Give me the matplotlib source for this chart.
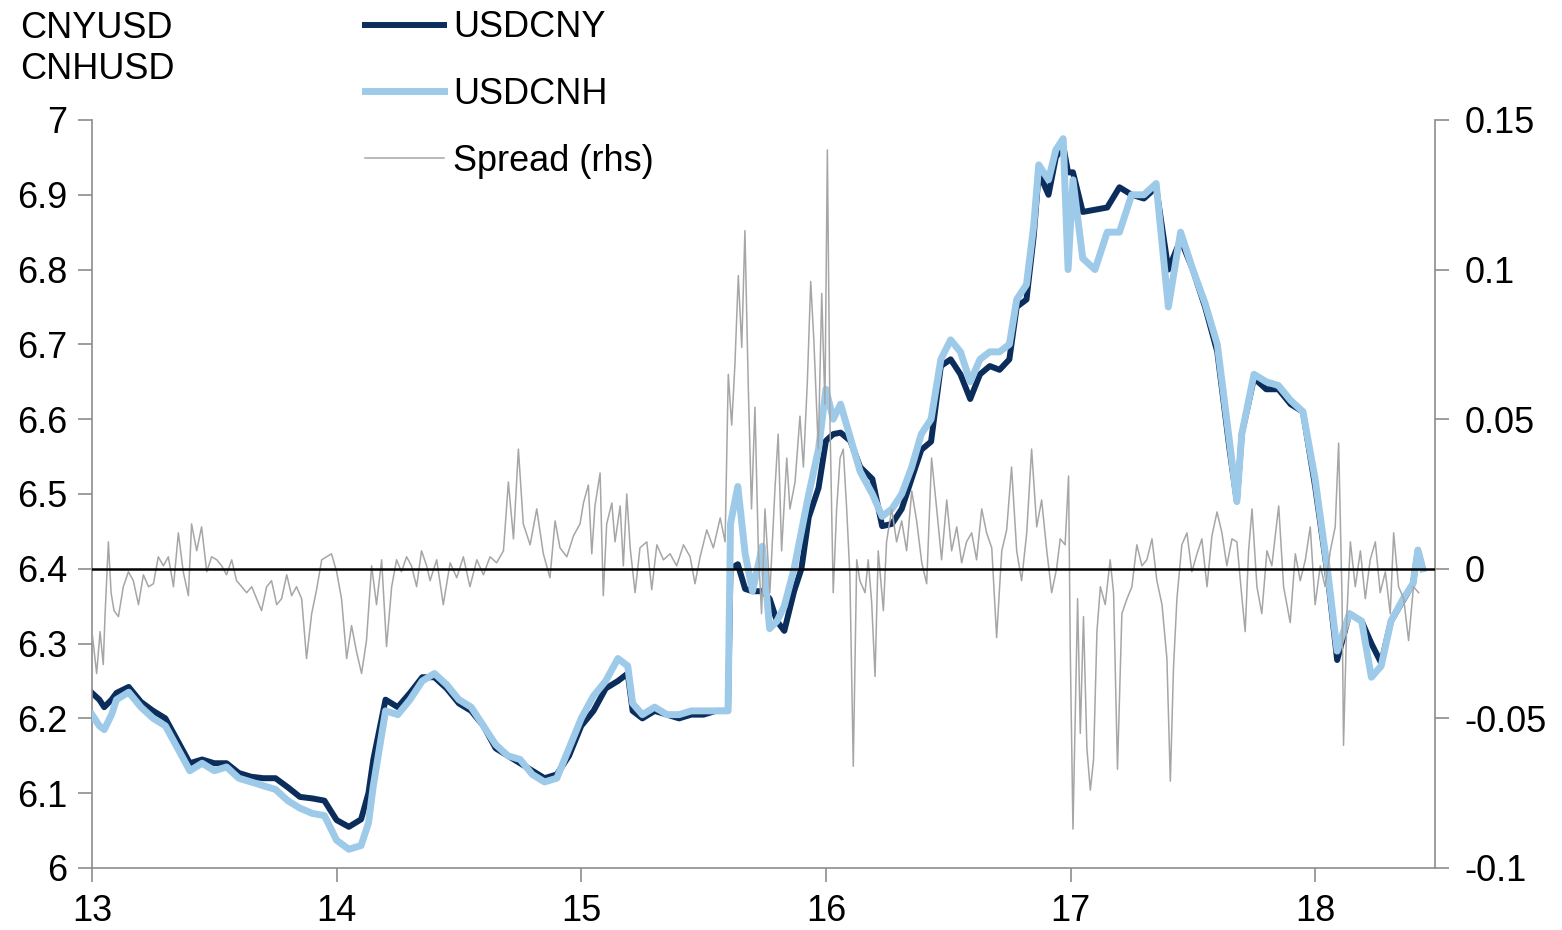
import matplotlib
matplotlib.use("Agg")
import matplotlib.pyplot as plt
from matplotlib.ticker import MultipleLocator, FuncFormatter

plt.rcParams['font.family'] = ['Liberation Sans', 'DejaVu Sans']

# x axis in years (13 = 2013)
fx_dates = [13.00, 13.03, 13.05, 13.08, 13.10, 13.15, 13.20, 13.25, 13.30, 13.35,
            13.40, 13.45, 13.50, 13.55, 13.60, 13.65, 13.70, 13.75, 13.80, 13.85,
            13.90, 13.95, 14.00, 14.05, 14.10, 14.13, 14.15, 14.20, 14.25, 14.30,
            14.35, 14.40, 14.45, 14.50, 14.55, 14.60, 14.65, 14.70, 14.75, 14.80,
            14.85, 14.90, 14.95, 15.00, 15.05, 15.10, 15.15, 15.19, 15.21, 15.25,
            15.30, 15.35, 15.40, 15.45, 15.50, 15.55, 15.60, 15.61, 15.64, 15.67,
            15.70, 15.74, 15.77, 15.80, 15.83, 15.87, 15.90, 15.93, 15.97, 16.00,
            16.03, 16.06, 16.10, 16.14, 16.19, 16.23, 16.27, 16.31, 16.35, 16.39,
            16.43, 16.47, 16.51, 16.55, 16.59, 16.63, 16.67, 16.71, 16.75, 16.78,
            16.82, 16.85, 16.87, 16.91, 16.94, 16.97, 16.99, 17.01, 17.05, 17.10,
            17.15, 17.20, 17.25, 17.30, 17.35, 17.40, 17.45, 17.50, 17.55, 17.60,
            17.65, 17.68, 17.70, 17.75, 17.80, 17.85, 17.90, 17.95, 18.00, 18.05,
            18.09, 18.14, 18.19, 18.23, 18.27, 18.31, 18.36, 18.40, 18.42, 18.44]

usdcny = [6.234, 6.225, 6.215, 6.225, 6.234, 6.242, 6.222, 6.210, 6.200, 6.170,
          6.140, 6.145, 6.140, 6.140, 6.127, 6.122, 6.120, 6.120, 6.108, 6.095,
          6.093, 6.090, 6.064, 6.055, 6.065, 6.100, 6.145, 6.225, 6.215, 6.234,
          6.255, 6.255, 6.240, 6.220, 6.210, 6.190, 6.160, 6.150, 6.140, 6.130,
          6.120, 6.125, 6.150, 6.190, 6.210, 6.240, 6.250, 6.260, 6.210, 6.200,
          6.210, 6.205, 6.200, 6.205, 6.205, 6.210, 6.210, 6.400, 6.406, 6.373,
          6.370, 6.370, 6.360, 6.330, 6.317, 6.370, 6.400, 6.469, 6.508, 6.571,
          6.580, 6.582, 6.571, 6.536, 6.520, 6.457, 6.460, 6.480, 6.520, 6.559,
          6.570, 6.671, 6.680, 6.660, 6.627, 6.660, 6.671, 6.666, 6.680, 6.750,
          6.760, 6.846, 6.930, 6.900, 6.950, 6.966, 6.930, 6.930, 6.877, 6.880,
          6.883, 6.910, 6.900, 6.895, 6.910, 6.800, 6.840, 6.800, 6.750, 6.690,
          6.560, 6.490, 6.580, 6.655, 6.640, 6.640, 6.620, 6.610, 6.510, 6.394,
          6.278, 6.340, 6.330, 6.300, 6.274, 6.330, 6.358, 6.380, 6.425, 6.400]

usdcnh = [6.205, 6.190, 6.185, 6.205, 6.225, 6.235, 6.215, 6.200, 6.190, 6.160,
          6.130, 6.140, 6.130, 6.135, 6.120, 6.115, 6.110, 6.105, 6.090, 6.080,
          6.073, 6.070, 6.037, 6.025, 6.030, 6.060, 6.110, 6.210, 6.205, 6.225,
          6.250, 6.260, 6.245, 6.225, 6.215, 6.190, 6.165, 6.150, 6.145, 6.125,
          6.115, 6.120, 6.160, 6.200, 6.230, 6.250, 6.280, 6.270, 6.220, 6.205,
          6.215, 6.205, 6.205, 6.210, 6.210, 6.210, 6.210, 6.460, 6.510, 6.420,
          6.370, 6.430, 6.320, 6.330, 6.350, 6.400, 6.450, 6.500, 6.560, 6.640,
          6.600, 6.620, 6.575, 6.530, 6.500, 6.470, 6.480, 6.500, 6.535, 6.580,
          6.600, 6.680, 6.706, 6.690, 6.650, 6.680, 6.690, 6.690, 6.700, 6.760,
          6.780, 6.860, 6.940, 6.920, 6.960, 6.975, 6.800, 6.920, 6.815, 6.800,
          6.850, 6.850, 6.900, 6.900, 6.915, 6.750, 6.850, 6.800, 6.755, 6.700,
          6.570, 6.490, 6.580, 6.660, 6.650, 6.645, 6.625, 6.610, 6.520, 6.400,
          6.290, 6.340, 6.330, 6.255, 6.270, 6.330, 6.360, 6.380, 6.425, 6.400]

spread_dates = [
    13.000, 13.019, 13.033, 13.046, 13.053, 13.067, 13.078, 13.090, 13.108, 13.128,
    13.149, 13.169, 13.190, 13.210, 13.231, 13.251, 13.271, 13.292, 13.312, 13.333,
    13.353, 13.373, 13.394, 13.407, 13.428, 13.448, 13.469, 13.489, 13.510, 13.530,
    13.550, 13.571, 13.591, 13.612, 13.632, 13.653, 13.673, 13.693, 13.714, 13.734,
    13.755, 13.775, 13.796, 13.816, 13.836, 13.857, 13.877, 13.898, 13.918, 13.939,
    13.959, 13.979, 14.000, 14.020, 14.041, 14.061, 14.082, 14.102, 14.122, 14.143,
    14.163, 14.184, 14.204, 14.225, 14.245, 14.265, 14.286, 14.306, 14.327, 14.347,
    14.368, 14.382, 14.409, 14.436, 14.464, 14.491, 14.518, 14.545, 14.573, 14.600,
    14.627, 14.654, 14.682, 14.702, 14.723, 14.743, 14.763, 14.791, 14.818, 14.845,
    14.872, 14.893, 14.913, 14.941, 14.968, 14.995, 15.009, 15.029, 15.043, 15.056,
    15.077, 15.090, 15.104, 15.125, 15.138, 15.159, 15.172, 15.186, 15.200, 15.220,
    15.240, 15.268, 15.288, 15.309, 15.336, 15.363, 15.390, 15.418, 15.445, 15.465,
    15.486, 15.513, 15.540, 15.568, 15.588, 15.601, 15.615, 15.628, 15.642, 15.656,
    15.669, 15.683, 15.696, 15.710, 15.724, 15.737, 15.751, 15.771, 15.792, 15.805,
    15.819, 15.840, 15.853, 15.874, 15.894, 15.908, 15.924, 15.938, 15.951, 15.969,
    15.983, 15.996, 16.006, 16.017, 16.030, 16.044, 16.058, 16.071, 16.085, 16.098,
    16.112, 16.126, 16.139, 16.160, 16.173, 16.187, 16.201, 16.214, 16.235, 16.248,
    16.269, 16.289, 16.310, 16.330, 16.351, 16.371, 16.392, 16.412, 16.432, 16.453,
    16.473, 16.494, 16.514, 16.535, 16.555, 16.575, 16.596, 16.616, 16.637, 16.657,
    16.678, 16.698, 16.719, 16.739, 16.759, 16.780, 16.800, 16.821, 16.841, 16.862,
    16.882, 16.903, 16.923, 16.943, 16.958, 16.978, 16.992, 16.999, 17.010, 17.019,
    17.029, 17.040, 17.053, 17.067, 17.081, 17.094, 17.108, 17.122, 17.142, 17.162,
    17.176, 17.192, 17.210, 17.231, 17.251, 17.271, 17.292, 17.312, 17.333, 17.353,
    17.374, 17.394, 17.408, 17.421, 17.435, 17.455, 17.476, 17.496, 17.517, 17.537,
    17.558, 17.578, 17.599, 17.619, 17.639, 17.660, 17.680, 17.701, 17.714, 17.728,
    17.742, 17.762, 17.782, 17.803, 17.823, 17.851, 17.871, 17.898, 17.919, 17.939,
    17.960, 17.980, 18.000, 18.021, 18.041, 18.062, 18.082, 18.096, 18.110, 18.116,
    18.130, 18.144, 18.164, 18.185, 18.205, 18.225, 18.246, 18.266, 18.287, 18.307,
    18.321, 18.341, 18.362, 18.382, 18.402, 18.423]

spread = [
    -0.021, -0.035, -0.021, -0.032, -0.016, 0.009, -0.008, -0.014, -0.016, -0.006,
    -0.001, -0.004, -0.012, -0.002, -0.006, -0.005, 0.004, 0.001, 0.004, -0.006,
    0.012, -0.001, -0.009, 0.015, 0.006, 0.014, -0.001, 0.004, 0.003, 0.001,
    -0.002, 0.003, -0.004, -0.006, -0.008, -0.006, -0.010, -0.014, -0.006, -0.004,
    -0.012, -0.010, -0.002, -0.009, -0.006, -0.010, -0.030, -0.015, -0.007, 0.003,
    0.004, 0.005, -0.001, -0.010, -0.030, -0.019, -0.028, -0.035, -0.024, 0.001,
    -0.012, 0.003, -0.026, -0.006, 0.003, -0.001, 0.004, 0.001, -0.006, 0.006,
    0.001, -0.004, 0.003, -0.012, 0.002, -0.003, 0.004, -0.006, 0.003, -0.002,
    0.004, 0.002, 0.006, 0.029, 0.010, 0.040, 0.015, 0.008, 0.020, 0.005,
    -0.003, 0.016, 0.007, 0.004, 0.011, 0.015, 0.022, 0.028, 0.005, 0.021,
    0.032, -0.009, 0.015, 0.022, 0.009, 0.021, 0.001, 0.025, 0.007, -0.008,
    0.007, 0.009, -0.007, 0.008, 0.003, 0.005, 0.001, 0.008, 0.004, -0.005,
    0.004, 0.013, 0.007, 0.017, 0.009, 0.065, 0.048, 0.068, 0.098, 0.074,
    0.113, 0.060, 0.020, 0.054, 0.006, -0.015, 0.020, -0.008, 0.027, 0.045,
    0.006, 0.037, 0.020, 0.029, 0.051, 0.034, 0.062, 0.096, 0.076, 0.040,
    0.092, 0.055, 0.140, 0.048, -0.008, 0.020, 0.037, 0.040, 0.020, -0.002,
    -0.066, 0.003, -0.004, -0.008, 0.003, -0.011, -0.036, 0.006, -0.014, 0.009,
    0.020, 0.009, 0.016, 0.006, 0.026, 0.016, 0.002, -0.005, 0.037, 0.020,
    0.003, 0.023, 0.006, 0.014, 0.002, 0.009, 0.012, 0.003, 0.020, 0.012,
    0.007, -0.023, 0.006, 0.013, 0.034, 0.006, -0.004, 0.012, 0.040, 0.014,
    0.023, 0.006, -0.008, 0.000, 0.010, 0.008, 0.031, -0.027, -0.087, -0.050,
    -0.010, -0.055, -0.016, -0.060, -0.074, -0.064, -0.021, -0.006, -0.012, 0.003,
    -0.008, -0.067, -0.015, -0.010, -0.006, 0.008, 0.001, 0.003, 0.010, -0.004,
    -0.012, -0.030, -0.071, -0.033, -0.010, 0.008, 0.012, -0.001, 0.005, 0.010,
    -0.006, 0.011, 0.019, 0.012, 0.001, 0.010, 0.009, -0.010, -0.021, 0.006,
    0.020, -0.006, -0.015, 0.006, 0.001, 0.021, -0.006, -0.018, 0.005, -0.004,
    0.003, 0.014, -0.012, 0.001, -0.006, 0.006, 0.014, 0.042, -0.010, -0.059,
    -0.015, 0.009, -0.006, 0.006, -0.010, 0.003, 0.009, -0.008, -0.001, -0.015,
    0.012, -0.006, -0.010, -0.024, -0.006, -0.008]

axis_grey = '#8c8c8c'
fs = 26

fig = plt.figure(figsize=(15.62, 9.30), dpi=100)
ax = fig.add_axes([0.0589, 0.0667, 0.8598, 0.8043])
ax2 = ax.twinx()

l1, = ax.plot(fx_dates, usdcny, color='#0b2d5b', lw=4.3, label='USDCNY', zorder=2)
l2, = ax.plot(fx_dates, usdcnh, color='#9ecae9', lw=5.0, label='USDCNH', zorder=3)
l3, = ax2.plot(spread_dates, spread, color='#a6a6a6', lw=1.1, label='Spread (rhs)', zorder=2)
ax2.axhline(0, color='black', lw=1.8, zorder=5)

ax.set_xlim(13.0, 18.49)
ax.set_ylim(6.0, 7.0)
ax2.set_ylim(-0.1, 0.15)
ax.xaxis.set_major_locator(MultipleLocator(1))
ax.yaxis.set_major_locator(MultipleLocator(0.1))
ax2.yaxis.set_major_locator(MultipleLocator(0.05))
fmt = FuncFormatter(lambda v, p: f"{round(v, 3):g}")
ax.yaxis.set_major_formatter(fmt)
ax2.yaxis.set_major_formatter(fmt)
ax.xaxis.set_major_formatter(FuncFormatter(lambda v, p: f"{v:g}"))

for a in (ax, ax2):
    a.spines['top'].set_visible(False)
    for s in ('left', 'right', 'bottom'):
        a.spines[s].set_color(axis_grey)
        a.spines[s].set_linewidth(1.2)
    a.tick_params(colors=axis_grey, labelcolor='black', labelsize=fs,
                  length=10, width=1.2, direction='out')
ax.spines['right'].set_visible(False)
ax2.spines['left'].set_visible(False)
ax2.spines['bottom'].set_visible(False)
ax.tick_params(axis='y', pad=8)
ax.tick_params(axis='x', pad=9)
ax2.tick_params(axis='y', pad=11)

fig.text(0.013, 0.988, 'CNYUSD\nCNHUSD', fontsize=fs, va='top', ha='left',
         linespacing=1.2)

fig.legend(handles=[l1, l2, l3], loc='upper left', bbox_to_anchor=(0.2155, 1.020),
           frameon=False, fontsize=fs, handlelength=2.17, handletextpad=0.25,
           labelspacing=0.88, borderpad=0.3)

fig.savefig('out.png', dpi=100)
